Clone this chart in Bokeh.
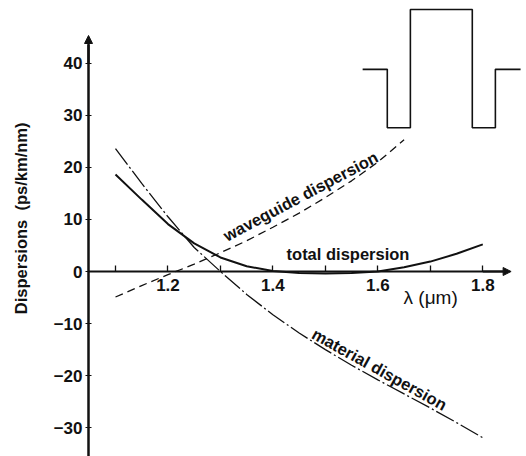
import math
from bokeh.plotting import figure
from bokeh.models import Range1d, FixedTicker, Arrow, NormalHead, Label
from bokeh.embed import file_html
from bokeh.resources import INLINE

# ---- data ----
wavelength_total = [1.10, 1.15, 1.20, 1.25, 1.30, 1.35, 1.40, 1.45, 1.50, 1.55, 1.60, 1.65, 1.70, 1.75, 1.80]
total_dispersion = [18.6, 13.8, 9.1, 5.4, 2.7, 1.0, 0.1, -0.3, -0.4, -0.3, 0.0, 0.8, 1.9, 3.4, 5.2]

wavelength_material = [1.10, 1.15, 1.20, 1.25, 1.30, 1.35, 1.40, 1.45, 1.50, 1.55, 1.60, 1.65, 1.70, 1.75, 1.80]
material_dispersion = [23.6, 16.9, 10.5, 4.6, 0.0, -4.4, -8.3, -11.8, -15.0, -18.0, -20.8, -23.5, -26.2, -29.0, -31.9]

wavelength_waveguide = [1.10, 1.15, 1.20, 1.25, 1.30, 1.35, 1.40, 1.45, 1.50, 1.55, 1.60, 1.65]
waveguide_dispersion = [-4.9, -2.7, -0.6, 1.4, 3.6, 5.9, 8.5, 11.2, 14.2, 17.4, 21.0, 25.3]

# W-shaped index profile sketch (inset), in chart units
profile_x = [1.571, 1.618, 1.618, 1.662, 1.662, 1.780, 1.780, 1.824, 1.824, 1.872]
profile_y = [38.8, 38.8, 27.6, 27.6, 50.3, 50.3, 27.6, 27.6, 38.8, 38.8]

x_ticks = [1.2, 1.4, 1.6, 1.8]
x_minor_ticks = [1.1, 1.3, 1.5, 1.7]
y_ticks = [-30, -20, -10, 0, 10, 20, 30, 40]
y_tick_labels = {t: ("\u2212%d" % -t if t < 0 else str(t)) for t in y_ticks}

# ---- layout constants ----
W, H = 526, 456
X_AXIS_POS = 1.0486
PX_PER_X = 524.7   # pixels per micrometre
PX_PER_Y = 5.21    # pixels per ps/km/nm
X_START = 1.1 - 115 / PX_PER_X
X_END = X_START + W / PX_PER_X
Y_END = 271 / PX_PER_Y
Y_START = Y_END - H / PX_PER_Y
INK = "#111111"
FONT = "Liberation Sans"

p = figure(width=W, height=H, x_range=Range1d(X_START, X_END), y_range=Range1d(Y_START, Y_END),
           output_backend="svg", toolbar_location=None, title=None,
           min_border_left=0, min_border_right=0, min_border_top=0, min_border_bottom=0)
p.outline_line_color = None
p.grid.visible = False

xa = p.xaxis[0]
xa.fixed_location = 0
xa.bounds = (X_AXIS_POS, 1.84)
xa.ticker = FixedTicker(ticks=x_ticks, minor_ticks=x_minor_ticks)
xa.axis_line_width = 2.2
xa.axis_line_color = INK
xa.major_tick_in = 6
xa.major_tick_out = 0
xa.minor_tick_in = 6
xa.minor_tick_out = 0
xa.major_tick_line_width = 1.3
xa.minor_tick_line_width = 1.3
xa.major_tick_line_color = INK
xa.minor_tick_line_color = INK
xa.major_label_text_font = FONT
xa.major_label_text_font_style = "bold"
xa.major_label_text_font_size = "17px"
xa.major_label_text_color = INK
xa.major_label_standoff = 7

ya = p.yaxis[0]
ya.fixed_location = X_AXIS_POS
ya.bounds = (Y_START - 1, 43.5)
ya.ticker = FixedTicker(ticks=y_ticks, minor_ticks=[])
ya.axis_line_width = 2.5
ya.axis_line_color = INK
ya.major_tick_in = 3
ya.major_tick_out = 3
ya.major_tick_line_width = 1.2
ya.major_tick_line_color = INK
ya.minor_tick_line_color = None
ya.major_label_overrides = y_tick_labels
ya.major_label_text_font = FONT
ya.major_label_text_font_style = "bold"
ya.major_label_text_font_size = "17px"
ya.major_label_text_color = INK
ya.major_label_standoff = 3

p.add_layout(Arrow(end=NormalHead(size=8, fill_color=INK, line_color=INK, line_width=1),
                   x_start=X_AXIS_POS, y_start=40, x_end=X_AXIS_POS, y_end=45.3,
                   line_width=2.2, line_color=INK))
p.add_layout(Arrow(end=NormalHead(size=8, fill_color=INK, line_color=INK, line_width=1),
                   x_start=1.80, y_start=0, x_end=1.854, y_end=0,
                   line_width=2.2, line_color=INK))

p.line(wavelength_total, total_dispersion, line_width=2, line_color=INK)
p.line(wavelength_material, material_dispersion, line_width=1.3, line_color=INK, line_dash="20 3 2 3")
p.line(wavelength_waveguide, waveguide_dispersion, line_width=1.3, line_color=INK, line_dash="8 5")
p.line(profile_x, profile_y, line_width=1.6, line_color=INK)

def lab(x, y, text, angle=0.0, size="16.5px", style="bold", align="left", baseline="alphabetic"):
    p.add_layout(Label(x=x, y=y, text=text, angle=angle, text_font=FONT, text_font_size=size,
                       text_font_style=style, text_color=INK, text_align=align, text_baseline=baseline))

lab(1.426, 3.45, "total dispersion")
lab(1.3076, 6.7, "waveguide dispersion", angle=math.radians(28))
lab(1.477, -11.7, "material dispersion", angle=math.radians(-29))
lab(1.649, -5.0, "\u03bb (\u03bcm)", size="19px", style="normal")
lab(X_START + 20 / PX_PER_X, 10.2, "Dispersions\u00a0\u00a0(ps/km/nm)", angle=math.pi / 2,
    align="center", baseline="middle")

open("out.html", "w").write(file_html(p, INLINE))
